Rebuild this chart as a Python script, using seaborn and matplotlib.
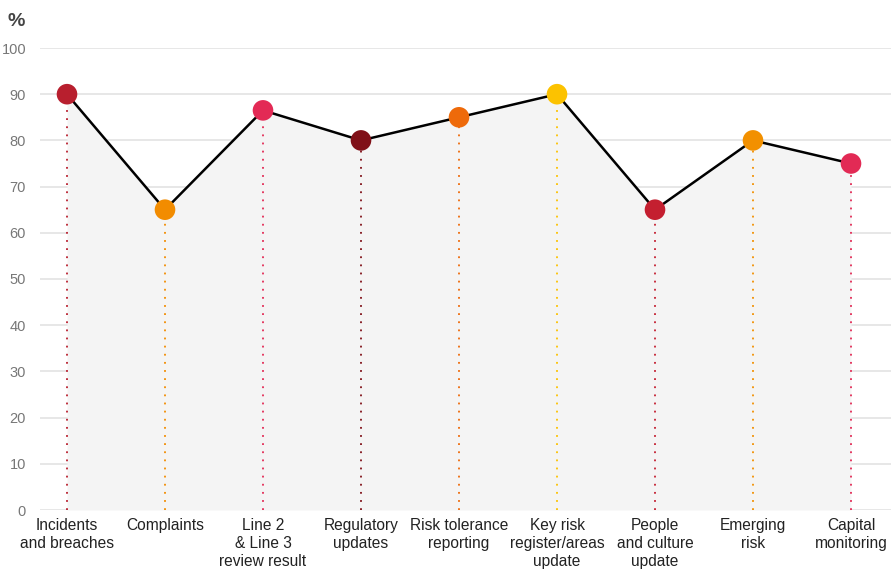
import matplotlib
matplotlib.use("Agg")
import matplotlib.pyplot as plt
import seaborn as sns
import pandas as pd
import numpy as np

categories = [
    "Incidents\nand breaches",
    "Complaints",
    "Line 2\n& Line 3\nreview result",
    "Regulatory\nupdates",
    "Risk tolerance\nreporting",
    "Key risk\nregister/areas\nupdate",
    "People\nand culture\nupdate",
    "Emerging\nrisk",
    "Capital\nmonitoring",
]
values = [90, 65, 86.5, 80, 85, 90, 65, 80, 75]
point_colors = ["#b81f2e", "#f28c00", "#e32a55", "#801018", "#ee6a0a",
                "#fcc200", "#c41f30", "#f29000", "#e22a55"]
y_ticks = [0, 10, 20, 30, 40, 50, 60, 70, 80, 90, 100]

sns.set_theme(style="white")
plt.rcParams["font.family"] = ["Liberation Sans", "DejaVu Sans"]

df = pd.DataFrame({"pos": np.arange(len(categories)), "cat": categories, "val": values})

fig = plt.figure(figsize=(8.91, 5.71), dpi=100)
ax = fig.add_axes([40 / 891, 1 - 510 / 571, 1 - 40 / 891, (510 - 48) / 571])

# light shaded area under the line
ax.fill_between(df["pos"], 0, df["val"], color="#f4f4f4", zorder=1, linewidth=0)

# horizontal gridlines
for t in y_ticks:
    ax.axhline(t, color="#e3e3e3", linewidth=1.2, zorder=0.5)

# dotted drop lines from each point to the baseline
for p, v, c in zip(df["pos"], df["val"], point_colors):
    ax.vlines(p, 0, v, colors=c, linestyles=(0, (1, 3.5)), linewidth=1.3, zorder=2)

sns.lineplot(data=df, x="pos", y="val", color="black", linewidth=1.8,
             ax=ax, zorder=3, legend=False)
sns.scatterplot(data=df, x="pos", y="val", hue="cat", palette=point_colors,
                s=220, edgecolor="none", ax=ax, zorder=4, legend=False)

ax.set_xlim(-27 / 98, len(categories) - 1 + 40 / 98)
ax.set_ylim(0, 100)
ax.set_yticks(y_ticks)
ax.set_yticklabels([str(t) for t in y_ticks], color="#777777", fontsize=10.5)
ax.set_xticks(df["pos"])
ax.set_xticklabels(categories, color="#222222", fontsize=11.2, linespacing=1.22)
ax.tick_params(axis="both", length=0)
ax.tick_params(axis="x", pad=6)
ax.tick_params(axis="y", pad=10)
ax.set_xlabel("")
ax.set_ylabel("")
for s in ax.spines.values():
    s.set_visible(False)
for lbl in ax.get_xticklabels():
    lbl.set_verticalalignment("top")

fig.text(8 / 891, 1 - 22 / 571, "%", fontsize=14, fontweight="bold",
         color="#444444", va="center", ha="left")

fig.savefig("out.png", dpi=100)
